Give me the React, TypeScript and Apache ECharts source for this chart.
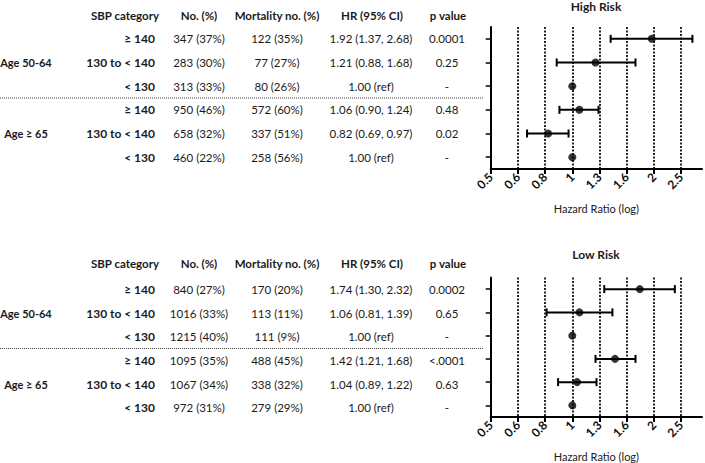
import React, { useEffect, useRef } from 'react';
import * as echarts from 'echarts';

const headers = ['SBP category', 'No. (%)', 'Mortality no. (%)', 'HR (95% CI)', 'p value'];
const sbpCategories = ['≥ 140', '130 to < 140', '< 130', '≥ 140', '130 to < 140', '< 130'];
const ageGroups = ['Age 50-64', 'Age ≥ 65'];
const tickExponents = [-3, -2, -1, 0, 1, 2, 3, 4];
const tickLabels = ['0.5', '0.6', '0.8', '1', '1.3', '1.6', '2', '2.5'];
const LOG_BASE = 1.25;

const highNo = ['347 (37%)', '283 (30%)', '313 (33%)', '950 (46%)', '658 (32%)', '460 (22%)'];
const highMort = ['122 (35%)', '77 (27%)', '80 (26%)', '572 (60%)', '337 (51%)', '258 (56%)'];
const highHR = [1.92, 1.21, 1.0, 1.06, 0.82, 1.0];
const highLo: (number | null)[] = [1.37, 0.88, null, 0.9, 0.69, null];
const highHi: (number | null)[] = [2.68, 1.68, null, 1.24, 0.97, null];
const highP = ['0.0001', '0.25', '-', '0.48', '0.02', '-'];

const lowNo = ['840 (27%)', '1016 (33%)', '1215 (40%)', '1095 (35%)', '1067 (34%)', '972 (31%)'];
const lowMort = ['170 (20%)', '113 (11%)', '111 (9%)', '488 (45%)', '338 (32%)', '279 (29%)'];
const lowHR = [1.74, 1.06, 1.0, 1.42, 1.04, 1.0];
const lowLo: (number | null)[] = [1.3, 0.81, null, 1.21, 0.89, null];
const lowHi: (number | null)[] = [2.32, 1.39, null, 1.68, 1.22, null];
const lowP = ['0.0002', '0.65', '-', '<.0001', '0.63', '-'];

const lg = (v: number) => Math.log(v) / Math.log(LOG_BASE);
const hrText = (hr: number, lo: number | null, hi: number | null) =>
  lo == null || hi == null ? `${hr.toFixed(2)} (ref)` : `${hr.toFixed(2)} (${lo.toFixed(2)}, ${hi.toFixed(2)})`;

const FONT = 'Lato, "Open Sans", sans-serif';
const TXT = '#1a1a1a';

const panels = [
  { title: 'High Risk', titleY: 6, top: 27, headerY: 15.7, no: highNo, mort: highMort, hr: highHR, lo: highLo, hi: highHi, p: highP },
  { title: 'Low Risk', titleY: 254, top: 277.5, headerY: 263.3, no: lowNo, mort: lowMort, hr: lowHR, lo: lowLo, hi: lowHi, p: lowP },
];
const GRID_LEFT = 490.7;
const GRID_H = 142;
const ROW_H = GRID_H / 6;
const colX = { sbp: 155, no: 199, mort: 277, hr: 371, p: 447, age: 26 };
const headerX = [125, 199, 277, 372, 448];

export default function App() {
  const ref = useRef<HTMLDivElement>(null);
  useEffect(() => {
    document.body.style.margin = '0';
    const chart = echarts.init(ref.current!, null, { renderer: 'svg' });
    const graphic: any[] = [];
    const grids: any[] = [];
    const xAxes: any[] = [];
    const yAxes: any[] = [];
    const series: any[] = [];
    panels.forEach((pn, k) => {
      const rowY = (i: number) => pn.top + ROW_H * (i + 0.5);
      graphic.push({
        type: 'text', x: 596, y: pn.titleY,
        style: { text: pn.title, font: `bold 12px ${FONT}`, fill: TXT, align: 'center', verticalAlign: 'middle' },
      });
      headers.forEach((h, j) => {
        graphic.push({
          type: 'text', x: headerX[j], y: pn.headerY,
          style: { text: h, font: `bold 11.5px ${FONT}`, fill: TXT, align: 'center', verticalAlign: 'middle' },
        });
      });
      ageGroups.forEach((a, j) => {
        graphic.push({
          type: 'text', x: colX.age, y: rowY(j * 3 + 1),
          style: { text: a, font: `bold 11px ${FONT}`, fill: TXT, align: 'center', verticalAlign: 'middle' },
        });
      });
      for (let i = 0; i < 6; i++) {
        const y = rowY(i);
        graphic.push({ type: 'text', x: colX.sbp, y, style: { text: sbpCategories[i], font: `bold 12px ${FONT}`, fill: TXT, align: 'right', verticalAlign: 'middle' } });
        graphic.push({ type: 'text', x: colX.no, y, style: { text: pn.no[i], font: `11.5px ${FONT}`, fill: TXT, align: 'center', verticalAlign: 'middle' } });
        graphic.push({ type: 'text', x: colX.mort, y, style: { text: pn.mort[i], font: `11.5px ${FONT}`, fill: TXT, align: 'center', verticalAlign: 'middle' } });
        graphic.push({ type: 'text', x: colX.hr, y, style: { text: hrText(pn.hr[i], pn.lo[i], pn.hi[i]), font: `11.5px ${FONT}`, fill: TXT, align: 'center', verticalAlign: 'middle' } });
        graphic.push({ type: 'text', x: colX.p, y, style: { text: pn.p[i], font: `11.5px ${FONT}`, fill: TXT, align: 'center', verticalAlign: 'middle' } });
      }
      const sepY = pn.top + ROW_H * 3;
      graphic.push({
        type: 'line', shape: { x1: 0, y1: sepY, x2: 484, y2: sepY },
        style: { stroke: '#444', lineWidth: 1, lineDash: [1, 1] },
      });

      grids.push({ left: GRID_LEFT, width: 702 - GRID_LEFT, top: pn.top, height: GRID_H });
      xAxes.push({
        type: 'value', gridIndex: k, min: -3, max: 4.77, interval: 1, position: 'bottom',
        splitLine: { show: false },
        axisLine: { show: true, onZero: false, lineStyle: { color: '#000', width: 2 } },
        axisTick: { show: true, customValues: tickExponents, length: 5, lineStyle: { color: '#000', width: 2 } },
        axisLabel: {
          customValues: tickExponents, rotate: 45, margin: 6, color: '#111', fontFamily: FONT,
          fontWeight: 'bold', fontSize: 12,
          formatter: (v: number) => tickLabels[Math.round(v) + 3] ?? '',
        },
        name: 'Hazard Ratio (log)', nameLocation: 'middle', nameGap: 34,
        nameTextStyle: { color: TXT, fontFamily: FONT, fontSize: 11 },
      });
      yAxes.push({
        type: 'category', gridIndex: k, inverse: true, position: 'left', data: ['0', '1', '2', '3', '4', '5'],
        axisLine: { show: true, onZero: false, lineStyle: { color: '#000', width: 2 } },
        axisTick: { show: true, alignWithLabel: true, length: 5, lineStyle: { color: '#000', width: 1.5 } },
        axisLabel: { show: false }, splitLine: { show: false },
      });
      const ci: any[] = [];
      for (let i = 0; i < 6; i++) {
        const lo = pn.lo[i], hi = pn.hi[i];
        if (lo != null && hi != null) ci.push([lg(lo), lg(hi), i]);
      }
      series.push({
        type: 'custom', xAxisIndex: k, yAxisIndex: k, data: ci, encode: { x: [0, 1], y: 2 }, z: 3,
        renderItem: (params: any, api: any) => {
          const a = api.coord([api.value(0), api.value(2)]);
          const b = api.coord([api.value(1), api.value(2)]);
          const cap = 4;
          const st = { stroke: '#000', lineWidth: 2 };
          return {
            type: 'group', children: [
              { type: 'line', shape: { x1: a[0], y1: a[1], x2: b[0], y2: b[1] }, style: st },
              { type: 'line', shape: { x1: a[0], y1: a[1] - cap, x2: a[0], y2: a[1] + cap }, style: st },
              { type: 'line', shape: { x1: b[0], y1: b[1] - cap, x2: b[0], y2: b[1] + cap }, style: st },
            ],
          };
        },
      });
      series.push({
        type: 'scatter', xAxisIndex: k, yAxisIndex: k, z: 4,
        data: pn.hr.map((v, i) => [lg(v), i]),
        symbol: 'circle', symbolSize: 8, itemStyle: { color: '#000' },
        markLine: {
          silent: true, symbol: 'none', label: { show: false },
          lineStyle: { color: '#000', width: 1.7, type: [2, 1.5] },
          data: tickExponents.slice(1).map((e) => ({ xAxis: e })),
        },
      });
    });
    chart.setOption({
      animation: false,
      backgroundColor: '#fff',
      grid: grids, xAxis: xAxes, yAxis: yAxes, series, graphic,
    });
    return () => chart.dispose();
  }, []);
  return <div ref={ref} style={{ position: 'absolute', left: 0, top: 0, width: 705, height: 463 }} />;
}
